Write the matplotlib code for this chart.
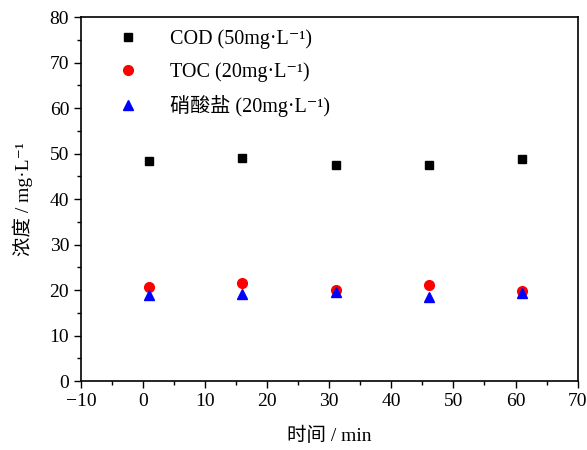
import numpy as np
import matplotlib.pyplot as plt

plt.rcParams['font.family'] = ['Liberation Serif', 'Noto Sans CJK SC', 'DejaVu Serif']

time_min = [1, 16, 31, 46, 61]
cod = [48.3, 49.0, 47.5, 47.6, 48.9]
toc = [20.7, 21.5, 20.0, 21.2, 19.8]
nitrate = [19.0, 19.2, 19.6, 18.5, 19.3]

labels = ['COD (50mg·L⁻¹)', 'TOC (20mg·L⁻¹)', '硝酸盐 (20mg·L⁻¹)']

fig = plt.figure(figsize=(5.87, 4.5), dpi=100)
ax = fig.add_axes([0.138, 0.153, 0.846, 0.809])

ax.plot(time_min, cod, 's', color='black', markersize=5.5, label=labels[0])
ax.plot(time_min, toc, 'o', color='red', markersize=7, label=labels[1])
ax.plot(time_min, nitrate, '^', color='blue', markersize=7.5, label=labels[2])

ax.set_xlim(-10, 70)
ax.set_ylim(0, 80)
ax.set_xticks(np.arange(-10, 71, 10))
ax.set_xticks(np.arange(-5, 70, 10), minor=True)
ax.set_yticks(np.arange(0, 81, 10))
ax.set_yticks(np.arange(5, 80, 10), minor=True)
ax.tick_params(which='both', direction='out', top=False, right=False,
               labelsize=14, width=1)
ax.tick_params(which='major', length=5)
ax.tick_params(which='minor', length=3)
ax.set_xticklabels(['−10', '0', '10', '20', '30', '40', '50', '60', '70'])
for s in ax.spines.values():
    s.set_linewidth(1.2)

ax.set_xlabel('时间 / min', fontsize=14, labelpad=12)
ax.set_ylabel('浓度 / mg·L⁻¹', fontsize=14, labelpad=12)

ax.legend(loc='upper left', bbox_to_anchor=(0.022, 1.01), frameon=False,
          fontsize=14.5, handletextpad=1.1, labelspacing=0.65, borderpad=0.3)

fig.savefig('out.png', dpi=100)
